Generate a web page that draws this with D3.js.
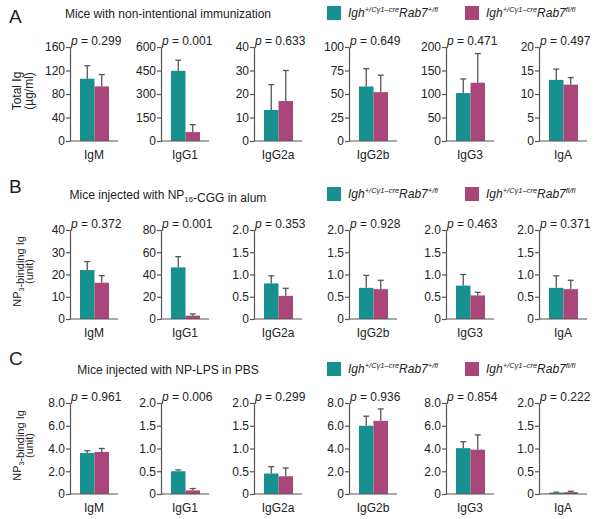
<!DOCTYPE html>
<html>
<head>
<meta charset="utf-8">
<script src="https://cdn.jsdelivr.net/npm/d3@7"></script>
<style>
  body { margin: 0; background: #fff; }
  svg text { font-family: Arial, "Liberation Sans", sans-serif; fill: #222; }
</style>
</head>
<body>
<div id="chart"></div>
<script>
// isotypes on each row
const isotypes = ["IgM", "IgG1", "IgG2a", "IgG2b", "IgG3", "IgA"];

// panel A: total Ig (ug/ml)
const aHet = [106, 448, 13.2, 58, 102, 13];
const aHetErr = [128, 516, 24, 77, 132, 15.3];
const aKo = [93, 57, 17, 52, 124, 12];
const aKoErr = [113, 104, 30, 70, 186, 13.5];
const aMax = [160, 600, 40, 100, 200, 20];
const aTicks = [[0, 40, 80, 120, 160], [0, 150, 300, 450, 600], [0, 10, 20, 30, 40],
  [0, 25, 50, 75, 100], [0, 50, 100, 150, 200], [0, 5, 10, 15, 20]];
const aP = ["0.299", "0.001", "0.633", "0.649", "0.471", "0.497"];

// panel B: NP3-binding Ig after NP16-CGG
const bHet = [22, 46.4, 0.8, 0.7, 0.75, 0.7];
const bHetErr = [25.8, 56, 0.97, 0.98, 1.0, 0.97];
const bKo = [16.3, 3, 0.52, 0.67, 0.53, 0.67];
const bKoErr = [19.5, 4.5, 0.69, 0.87, 0.6, 0.87];
const bMax = [40, 80, 2, 2, 2, 2];
const bTicks = [[0, 10, 20, 30, 40], [0, 20, 40, 60, 80], [0, 0.5, 1, 1.5, 2],
  [0, 0.5, 1, 1.5, 2], [0, 0.5, 1, 1.5, 2], [0, 0.5, 1, 1.5, 2]];
const bP = ["0.372", "0.001", "0.353", "0.928", "0.463", "0.371"];

// panel C: NP3-binding Ig after NP-LPS
const cHet = [3.6, 0.5, 0.45, 6.0, 4.03, 0.03];
const cHetErr = [3.8, 0.53, 0.6, 6.84, 4.6, 0.04];
const cKo = [3.7, 0.08, 0.39, 6.43, 3.9, 0.04];
const cKoErr = [4.0, 0.12, 0.57, 7.48, 5.2, 0.06];
const cMax = [8, 2, 2, 8, 8, 2];
const cTicks = [[0, 2, 4, 6, 8], [0, 0.5, 1, 1.5, 2], [0, 0.5, 1, 1.5, 2],
  [0, 2, 4, 6, 8], [0, 2, 4, 6, 8], [0, 0.5, 1, 1.5, 2]];
const cP = ["0.961", "0.006", "0.299", "0.936", "0.854", "0.222"];

const teal = "#17918f";
const magenta = "#aa4679";
const axisColor = "#555";

const width = 600, height = 519;
const svg = d3.select("#chart").append("svg")
    .attr("width", width)
    .attr("height", height);

// left edge of each small chart
const axisX = [70, 161, 254, 349, 446, 539];

const rows = [
  {letter: "A", letterY: 23, titleY: 18, top: 47, bottom: 141, ySize: 12,
   het: aHet, hetErr: aHetErr, ko: aKo, koErr: aKoErr, max: aMax, ticks: aTicks, p: aP,
   fmt: ["d", "d", "d", "d", "d", "d"],
   title: [{t: "Mice with non-intentional immunization"}],
   ytitle: [{t: "Total Ig"}], ytitle2: "(µg/ml)"},
  {letter: "B", letterY: 193, titleY: 199, top: 230, bottom: 319, ySize: 11,
   het: bHet, hetErr: bHetErr, ko: bKo, koErr: bKoErr, max: bMax, ticks: bTicks, p: bP,
   fmt: ["d", "d", "dec", "dec", "dec", "dec"],
   title: [{t: "Mice injected with NP"}, {t: "16", sub: true}, {t: "-CGG in alum"}],
   ytitle: [{t: "NP"}, {t: "3", sub: true}, {t: "-binding Ig"}], ytitle2: "(unit)"},
  {letter: "C", letterY: 365, titleY: 374, top: 403, bottom: 494, ySize: 11,
   het: cHet, hetErr: cHetErr, ko: cKo, koErr: cKoErr, max: cMax, ticks: cTicks, p: cP,
   fmt: ["dec", "dec", "dec", "dec", "dec", "dec"],
   title: [{t: "Mice injected with NP-LPS in PBS"}],
   ytitle: [{t: "NP"}, {t: "3", sub: true}, {t: "-binding Ig"}], ytitle2: "(unit)"}
];

function tickFormat(kind) {
  if (kind === "d") return d3.format("d");
  return d => d === 0 ? "0" : d3.format(".1f")(d);
}

// text made of pieces, with subscripts
function richText(sel, parts, size) {
  parts.forEach(function (p) {
    if (p.sub) {
      sel.append("tspan").attr("font-size", size * 0.65).attr("dy", 3).text(p.t);
      sel.append("tspan").attr("dy", -3).text("");
    } else {
      sel.append("tspan").text(p.t);
    }
  });
}

function legend(y) {
  const items = [{c: teal, x: 327, end: "+/fl"}, {c: magenta, x: 465, end: "fl/fl"}];
  items.forEach(function (it) {
    svg.append("rect")
        .attr("x", it.x).attr("y", y - 7)
        .attr("width", 14).attr("height", 14)
        .attr("fill", it.c);
    const t = svg.append("text")
        .attr("x", it.x + 21).attr("y", y + 4)
        .attr("font-size", 12)
        .attr("font-style", "italic");
    t.append("tspan").text("Igh");
    t.append("tspan").attr("font-size", 7.5).attr("dy", -5).text("+/Cγ1–cre");
    t.append("tspan").attr("dy", 5).text("Rab7");
    t.append("tspan").attr("font-size", 7.5).attr("dy", -5).text(it.end);
  });
}

rows.forEach(function (row) {
  svg.append("text")
      .attr("x", 9).attr("y", row.letterY)
      .attr("font-size", 19)
      .text(row.letter);

  const title = svg.append("text")
      .attr("x", 168).attr("y", row.titleY)
      .attr("text-anchor", "middle")
      .attr("font-size", 12);
  richText(title, row.title, 12);

  legend(row.titleY - 5);

  const midY = (row.top + row.bottom) / 2 - 3;
  const yt = svg.append("text")
      .attr("transform", `translate(21,${midY}) rotate(-90)`)
      .attr("text-anchor", "middle")
      .attr("font-size", row.ySize);
  richText(yt, row.ytitle, row.ySize);
  svg.append("text")
      .attr("transform", `translate(33,${midY}) rotate(-90)`)
      .attr("text-anchor", "middle")
      .attr("font-size", row.ySize)
      .text(row.ytitle2);

  isotypes.forEach(function (iso, i) {
    const x0 = axisX[i];
    const yScale = d3.scaleLinear()
        .domain([0, row.max[i]])
        .range([row.bottom, row.top]);
    const xScale = d3.scaleBand()
        .domain(["het", "ko"])
        .range([x0 + 10, x0 + 39])
        .padding(0);

    const g = svg.append("g");

    const bars = [
      {k: "het", v: row.het[i], e: row.hetErr[i], c: teal},
      {k: "ko", v: row.ko[i], e: row.koErr[i], c: magenta}
    ];

    // error bars (upper only)
    g.selectAll(".err")
        .data(bars)
        .enter()
        .append("line")
        .attr("x1", d => xScale(d.k) + xScale.bandwidth() / 2)
        .attr("x2", d => xScale(d.k) + xScale.bandwidth() / 2)
        .attr("y1", d => yScale(d.v))
        .attr("y2", d => yScale(d.e))
        .attr("stroke", axisColor)
        .attr("stroke-width", 1.3);
    g.selectAll(".cap")
        .data(bars)
        .enter()
        .append("line")
        .attr("x1", d => xScale(d.k) + xScale.bandwidth() / 2 - 3)
        .attr("x2", d => xScale(d.k) + xScale.bandwidth() / 2 + 3)
        .attr("y1", d => yScale(d.e))
        .attr("y2", d => yScale(d.e))
        .attr("stroke", axisColor)
        .attr("stroke-width", 1.3);

    g.selectAll("rect")
        .data(bars)
        .enter()
        .append("rect")
        .attr("x", d => xScale(d.k))
        .attr("y", d => yScale(d.v))
        .attr("width", xScale.bandwidth())
        .attr("height", d => row.bottom - yScale(d.v))
        .attr("fill", d => d.c);

    // y axis
    const yAxis = svg.append("g")
        .attr("transform", `translate(${x0},0)`)
        .call(d3.axisLeft(yScale).tickValues(row.ticks[i])
            .tickFormat(tickFormat(row.fmt[i])).tickSize(4).tickSizeOuter(0).tickPadding(1));
    yAxis.select(".domain").attr("stroke", axisColor).attr("stroke-width", 1.2);
    yAxis.selectAll(".tick line").attr("stroke", axisColor).attr("stroke-width", 1.2);
    yAxis.selectAll(".tick text")
        .attr("font-size", 12)
        .attr("font-family", "Arial, 'Liberation Sans', sans-serif")
        .attr("fill", "#222");

    // x axis line
    svg.append("line")
        .attr("x1", x0).attr("x2", x0 + 48)
        .attr("y1", row.bottom).attr("y2", row.bottom)
        .attr("stroke", axisColor)
        .attr("stroke-width", 1.2);

    svg.append("text")
        .attr("x", x0 + 24).attr("y", row.bottom + 18)
        .attr("text-anchor", "middle")
        .attr("font-size", 12)
        .text(iso);

    const pt = svg.append("text")
        .attr("x", x0 + 1).attr("y", row.top - 2)
        .attr("font-size", 12);
    pt.append("tspan").attr("font-style", "italic").text("p");
    pt.append("tspan").text(" = " + row.p[i]);
  });
});
</script>
</body>
</html>
